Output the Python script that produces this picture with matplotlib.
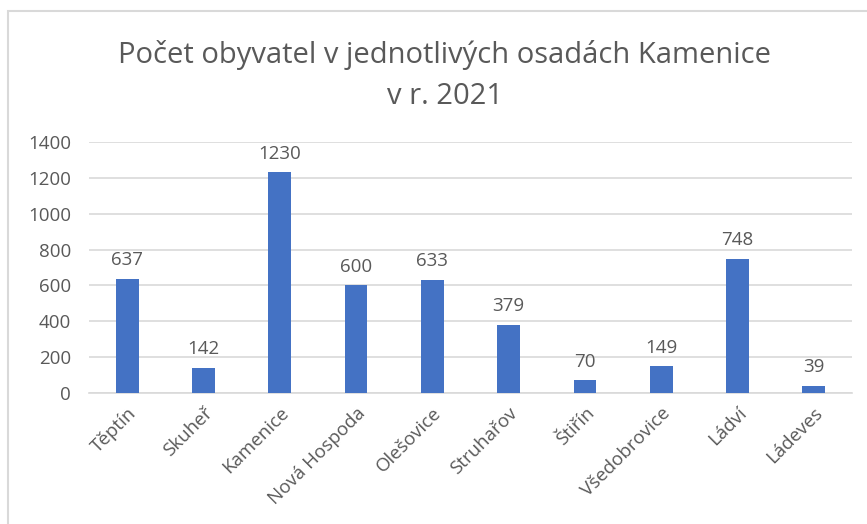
import matplotlib
matplotlib.use("Agg")
import matplotlib.pyplot as plt
from matplotlib.patches import Rectangle

osady = ["Těptín", "Skuheř", "Kamenice", "Nová Hospoda", "Olešovice",
         "Struhařov", "Štiřín", "Všedobrovice", "Ládví", "Ládeves"]
obyvatel = [637, 142, 1230, 600, 633, 379, 70, 149, 748, 39]
yticks = [0, 200, 400, 600, 800, 1000, 1200, 1400]

plt.rcParams["font.family"] = ["Open Sans", "DejaVu Sans"]
text_col = "#595959"

fig = plt.figure(figsize=(8.67, 5.24), dpi=100)
fig.patch.set_facecolor("white")

# ramecek grafu (pravy a dolni okraj jsou oriznute)
fig.add_artist(Rectangle((8 / 867, -0.1), 1.2, 1 - 11 / 524 + 0.1,
                         transform=fig.transFigure, fill=False,
                         edgecolor="#D9D9D9", linewidth=1.5))

ax = fig.add_axes([89 / 867, 1 - 393 / 524, (852 - 89) / 867, (393 - 142) / 524])
x = range(len(osady))
ax.bar(x, obyvatel, width=0.3, color="#4472C4", zorder=3)

for xi, v in zip(x, obyvatel):
    ax.annotate(f"{v}", xy=(xi, v), xytext=(0, 7), textcoords="offset points",
                ha="center", va="bottom", fontsize=13.5, color=text_col)

ax.set_xlim(-0.5, len(osady) - 0.5)
ax.set_ylim(0, 1400)
ax.set_yticks(yticks)
ax.set_yticklabels([str(t) for t in yticks], fontsize=13.5, color=text_col)
ax.set_xticks(list(x))
ax.set_xticklabels(osady, rotation=45, ha="right", rotation_mode="anchor",
                   fontsize=13.5, color=text_col)
ax.tick_params(axis="both", length=0)
ax.tick_params(axis="x", pad=8)
ax.tick_params(axis="y", pad=13)
ax.grid(axis="y", color="#D9D9D9", linewidth=1.2, zorder=0)
for s in ["top", "right", "left"]:
    ax.spines[s].set_visible(False)
ax.spines["bottom"].set_color("#D9D9D9")
ax.spines["bottom"].set_linewidth(1.2)

fig.text(445 / 867, 1 - 55 / 524, "Počet obyvatel v jednotlivých osadách Kamenice",
         ha="center", va="center", fontsize=21, color=text_col)
fig.text(445 / 867, 1 - 97 / 524, "v r. 2021",
         ha="center", va="center", fontsize=21, color=text_col)

fig.savefig("out.png", dpi=100, facecolor="white")
